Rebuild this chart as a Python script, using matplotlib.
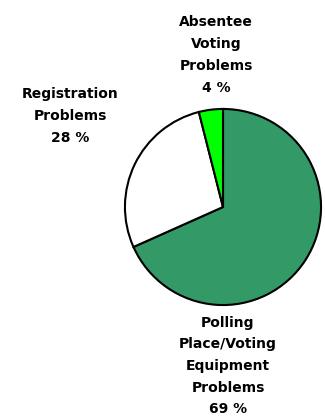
import matplotlib.pyplot as plt

# slice data, clockwise from 12 o'clock
labels = ["Polling\nPlace/Voting\nEquipment\nProblems", "Registration\nProblems", "Absentee\nVoting\nProblems"]
shares = [69, 28, 4]
colors = ["#339966", "#ffffff", "#00ff00"]

W, H = 325, 417
fig = plt.figure(figsize=(W / 100, H / 100), dpi=100)

# pie centred at (223, 207) px, radius 100 px
cx, cy, r = 223, 207, 100
ax = fig.add_axes([(cx - r) / W, (H - cy - r) / H, 2 * r / W, 2 * r / H])
ax.pie(shares, colors=colors, startangle=90, counterclock=False,
       wedgeprops=dict(edgecolor="black", linewidth=1.5))
ax.set_xlim(-1.02, 1.02)
ax.set_ylim(-1.02, 1.02)
ax.set_aspect("equal")

# label centres in px (x, y of the block middle)
label_pos = [(228, 366), (70, 116), (216, 55)]
for lab, val, (x, y) in zip(labels, shares, label_pos):
    fig.text(x / W, 1 - y / H, lab + "\n%d %%" % val, ha="center", va="center",
             multialignment="center", fontsize=10, fontweight="bold",
             family="DejaVu Sans", linespacing=1.7)

fig.savefig("out.png", dpi=100)
